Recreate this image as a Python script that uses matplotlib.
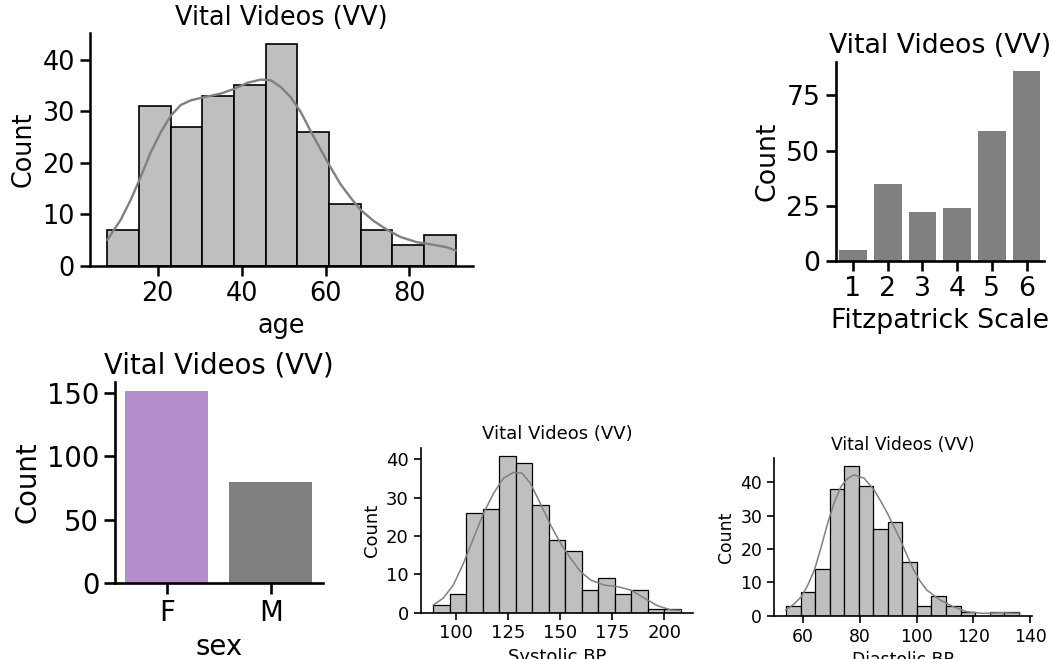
import numpy as np
import matplotlib.pyplot as plt

# age histogram (11 bins between min and max age)
age_range = (8, 91)
age_counts = [7, 31, 27, 33, 35, 43, 26, 12, 7, 4, 6]
age_kde_x = [8.0, 11.2, 13.6, 16.0, 18.3, 20.7, 23.1, 25.5, 27.9, 31.0, 35.0,
             38.2, 41.4, 44.5, 46.9, 49.3, 51.7, 54.1, 56.4, 58.8, 61.2, 63.6,
             66.0, 68.3, 71.5, 74.7, 77.9, 81.8, 85.8, 89.0, 91.0]
age_kde_y = [5.1, 9.0, 12.9, 17.4, 22.0, 25.9, 29.1, 31.2, 32.1, 32.7, 33.4,
             34.3, 35.5, 36.1, 36.0, 34.7, 32.7, 29.8, 26.2, 22.6, 19.1, 15.8,
             13.2, 10.9, 8.7, 7.0, 5.6, 4.6, 4.1, 3.6, 3.0]
age_ticks = [20, 40, 60, 80]

# Fitzpatrick skin type counts
fitz_labels = ["1", "2", "3", "4", "5", "6"]
fitz_counts = [5, 35, 22, 24, 59, 86]

# sex counts
sex_labels = ["F", "M"]
sex_counts = [151, 80]

# systolic BP histogram (15 bins)
sys_range = (89, 208)
sys_counts = [2, 5, 26, 27, 41, 39, 28, 19, 16, 6, 9, 5, 6, 1, 1]
sys_kde_x = [89.1, 93.9, 98.7, 103.6, 108.4, 113.2, 118.0, 122.8, 127.7, 131.7,
             135.7, 140.5, 145.4, 150.2, 155.0, 159.8, 164.7, 171.1, 177.5,
             184.0, 190.4, 196.8, 203.3, 208.0]
sys_kde_y = [2.0, 3.8, 7.2, 12.9, 19.4, 25.9, 31.1, 35.1, 36.6, 36.4,
             33.8, 28.5, 22.9, 18.1, 14.2, 10.7, 8.5, 7.2, 6.8,
             5.9, 3.8, 1.8, 0.7, 0.6]
sys_ticks = [100, 125, 150, 175, 200]

# diastolic BP histogram (16 bins)
dia_range = (54, 136)
dia_counts = [3, 7, 14, 38, 45, 39, 26, 28, 16, 3, 6, 3, 1, 0, 1, 1]
dia_kde_x = [53.9, 56.7, 59.4, 61.7, 64.0, 66.3, 68.7, 71.0, 73.4, 75.7, 78.0,
             81.5, 85.0, 87.3, 89.7, 92.0, 94.3, 96.7, 99.0, 101.3, 103.6,
             108.3, 112.9, 117.6, 123.4, 129.2, 136.4]
dia_kde_y = [1.7, 3.4, 5.7, 9.2, 13.7, 20.3, 27.8, 34.0, 38.8, 41.2, 42.3,
             41.3, 37.8, 34.5, 30.8, 26.8, 22.8, 18.0, 13.7, 10.3, 7.7,
             4.7, 2.7, 1.2, 0.7, 0.9, 0.7]
dia_ticks = [60, 80, 100, 120, 140]

title = "Vital Videos (VV)"


def style(ax, fs, lw, ticklen):
    for side in ["top", "right"]:
        ax.spines[side].set_visible(False)
    for side in ["left", "bottom"]:
        ax.spines[side].set_linewidth(lw)
    ax.tick_params(labelsize=fs, width=lw, length=ticklen)
    ax.set_ylabel("Count", fontsize=fs)
    ax.set_title(title, fontsize=fs)


def hist_panel(ax, rng, counts, kx, ky, xlabel, fs, lw, ticklen, elw, klw):
    edges = np.linspace(rng[0], rng[1], len(counts) + 1)
    ax.hist(edges[:-1], bins=edges, weights=counts, color="#bfbfbf",
            edgecolor="black", linewidth=elw)
    ax.plot(kx, ky, color="grey", lw=klw)
    style(ax, fs, lw, ticklen)
    ax.set_xlabel(xlabel, fontsize=fs)


fig = plt.figure(figsize=(10.53, 6.59), dpi=100)

ax1 = fig.add_axes([0.0855, 0.5964, 0.3637, 0.3536])
hist_panel(ax1, age_range, age_counts, age_kde_x, age_kde_y, "age",
           18.4, 1.8, 7.5, 1.2, 1.7)
ax1.set_xticks(age_ticks)
ax1.set_yticks([0, 10, 20, 30, 40])

ax2 = fig.add_axes([0.7936, 0.6044, 0.1978, 0.302])
ax2.bar(fitz_labels, fitz_counts, width=0.8, color="grey")
ax2.set_xlim(-0.5, len(fitz_labels) - 0.5)
style(ax2, 19.3, 1.9, 7.5)
ax2.set_yticks([0, 25, 50, 75])
ax2.set_xlabel("Fitzpatrick Scale", fontsize=19.3)

ax3 = fig.add_axes([0.1092, 0.1149, 0.1972, 0.3059])
ax3.bar(sex_labels, sex_counts, width=0.8, color=["#b48ecb", "grey"])
ax3.set_xlim(-0.5, len(sex_labels) - 0.5)
style(ax3, 19.8, 1.9, 7.8)
ax3.set_yticks([0, 50, 100, 150])
ax3.set_xlabel("sex", fontsize=19.8)

ax4 = fig.add_axes([0.3995, 0.0703, 0.2589, 0.2504])
hist_panel(ax4, sys_range, sys_counts, sys_kde_x, sys_kde_y, "Systolic BP",
           13.0, 1.2, 5, 0.9, 1.1)
ax4.set_xticks(sys_ticks)
ax4.set_yticks([0, 10, 20, 30, 40])

ax5 = fig.add_axes([0.735, 0.0657, 0.2447, 0.2388])
hist_panel(ax5, dia_range, dia_counts, dia_kde_x, dia_kde_y, "Diastolic BP",
           12.4, 1.2, 5, 0.9, 1.1)
ax5.set_xticks(dia_ticks)
ax5.set_yticks([0, 10, 20, 30, 40])

fig.savefig("out.png", dpi=100)
